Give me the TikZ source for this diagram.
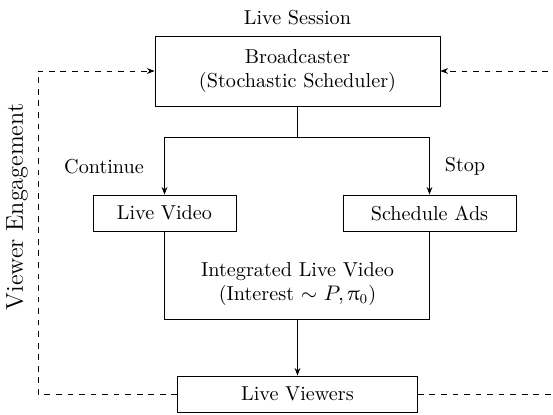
\documentclass[tikz,border=0pt]{standalone}
\usetikzlibrary{arrows.meta}
\usepackage{upgreek}
\begin{document}
\begin{tikzpicture}[x=0.52pt,y=-0.52pt,
  font=\fontsize{10.5}{12.5}\selectfont,
  box/.style={draw, rectangle, inner sep=0pt, align=center},
  lbl/.style={inner sep=0pt, align=center},
  arr/.style={-{Stealth[length=4pt,width=3pt]}},
  fb/.style={dashed, -{Stealth[length=4pt,width=3pt]}}]
\useasboundingbox (0,0) rectangle (553,414);
\node[lbl] (session) at (297.5,18) {Live Session};
\node[box, minimum width=148.2pt, minimum height=36.4pt] (bc) at (297.5,71) {Broadcaster\\(Stochastic Scheduler)};
\node[box, minimum width=74.4pt, minimum height=18.7pt] (lv) at (164.5,213) {Live Video};
\node[box, minimum width=90pt, minimum height=18.7pt] (sa) at (429.5,213) {Schedule Ads};
\node[lbl] (ilv) at (297.5,284) {Integrated Live Video\\(Interest $\sim$ $P,\uppi_0$)};
\node[box, minimum width=124.8pt, minimum height=18.7pt] (viewers) at (297.5,394) {Live Viewers};
\node[lbl] (cont) at (104,167) {Continue};
\node[lbl] (stop) at (465,166) {Stop};
\node[lbl, rotate=90, font=\fontsize{12.6}{15}\selectfont] (eng) at (17,207) {Viewer Engagement};
\coordinate (split) at (297.5,137);
\coordinate (ibot) at (297.5,319);
\coordinate (lcorner) at (38,394);
\coordinate (rcorner) at (558,394);
% connectors
\draw (bc.south) -- (split);
\draw[arr] (split) -| (lv.north);
\draw[arr] (split) -| (sa.north);
\draw (lv.south) -- (lv.south |- ibot) -- (sa.south |- ibot) -- (sa.south);
\draw[arr] (ibot) -- (viewers.north);
\draw[fb] (viewers.west) -- (lcorner) |- (bc.west);
\draw[fb] (viewers.east) -- (rcorner) |- (bc.east);
\end{tikzpicture}
\end{document}
